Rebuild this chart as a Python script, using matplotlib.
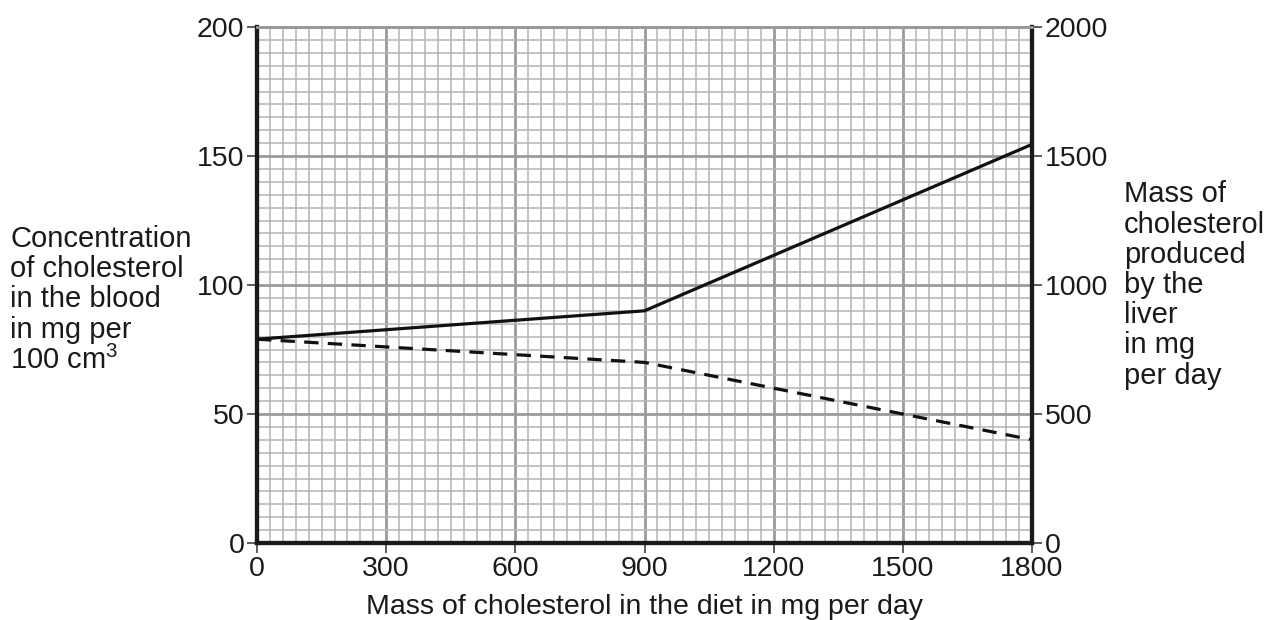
import matplotlib
matplotlib.use("Agg")
import matplotlib.pyplot as plt
from matplotlib.ticker import MultipleLocator

plt.rcParams['font.family'] = ['Liberation Sans', 'DejaVu Sans']
plt.rcParams['mathtext.fontset'] = 'custom'
plt.rcParams['mathtext.rm'] = 'Liberation Sans'
plt.rcParams['mathtext.it'] = 'Liberation Sans'

# data
diet_mg = [0, 900, 1800]
blood_conc = [79, 90, 154.5]        # left axis, mg per 100 cm3
liver_mass = [790, 700, 400]        # right axis, mg per day

x_ticks = [0, 300, 600, 900, 1200, 1500, 1800]
left_ticks = [0, 50, 100, 150, 200]
right_ticks = [0, 500, 1000, 1500, 2000]

fig = plt.figure(figsize=(12.7, 6.2), dpi=100)
ax = fig.add_axes([257 / 1270, 77 / 620, 775 / 1270, 516 / 620])
ax2 = ax.twinx()

ax.set_xlim(0, 1800)
ax.set_ylim(0, 200)
ax2.set_ylim(0, 2000)

ax.set_xticks(x_ticks)
ax.set_yticks(left_ticks)
ax2.set_yticks(right_ticks)
ax.xaxis.set_minor_locator(MultipleLocator(30))
ax.yaxis.set_minor_locator(MultipleLocator(5))

# graph paper
ax.grid(which='minor', color='#b4b4b4', lw=1.1, zorder=0)
ax.grid(which='major', color='#9a9a9a', lw=2.0, zorder=0)
ax.set_axisbelow(True)

ax.plot(diet_mg, blood_conc, color='#111111', lw=2.3, solid_capstyle='butt', zorder=3)
dline, = ax2.plot(diet_mg, liver_mass, color='#111111', lw=2.3, zorder=3)
dline.set_dashes([4.5, 2.9])

tick_kw = dict(labelsize=20.5, length=7, width=1.1, color='#333333', labelcolor='#1a1a1a', pad=2)
ax.tick_params(which='major', **tick_kw)
ax.tick_params(which='minor', length=0)
ax2.tick_params(which='major', **tick_kw)

for a in (ax, ax2):
    for side in ('left', 'right', 'bottom'):
        a.spines[side].set_linewidth(3)
        a.spines[side].set_color('#1a1a1a')
    a.spines['top'].set_color('#9a9a9a')
    a.spines['top'].set_linewidth(2)

ax.set_xlabel('Mass of cholesterol in the diet in mg per day', fontsize=20.5, color='#1a1a1a', labelpad=9)

fig.text(10 / 1270, 1 - 300 / 620,
         'Concentration\nof cholesterol\nin the blood\nin mg per\n100 cm$^{3}$',
         fontsize=21, color='#1a1a1a', ha='left', va='center', linespacing=1.1)
fig.text(1124 / 1270, 1 - 285 / 620,
         'Mass of\ncholesterol\nproduced\nby the\nliver\nin mg\nper day',
         fontsize=21, color='#1a1a1a', ha='left', va='center', linespacing=1.1)

fig.savefig('out.png', dpi=100)
